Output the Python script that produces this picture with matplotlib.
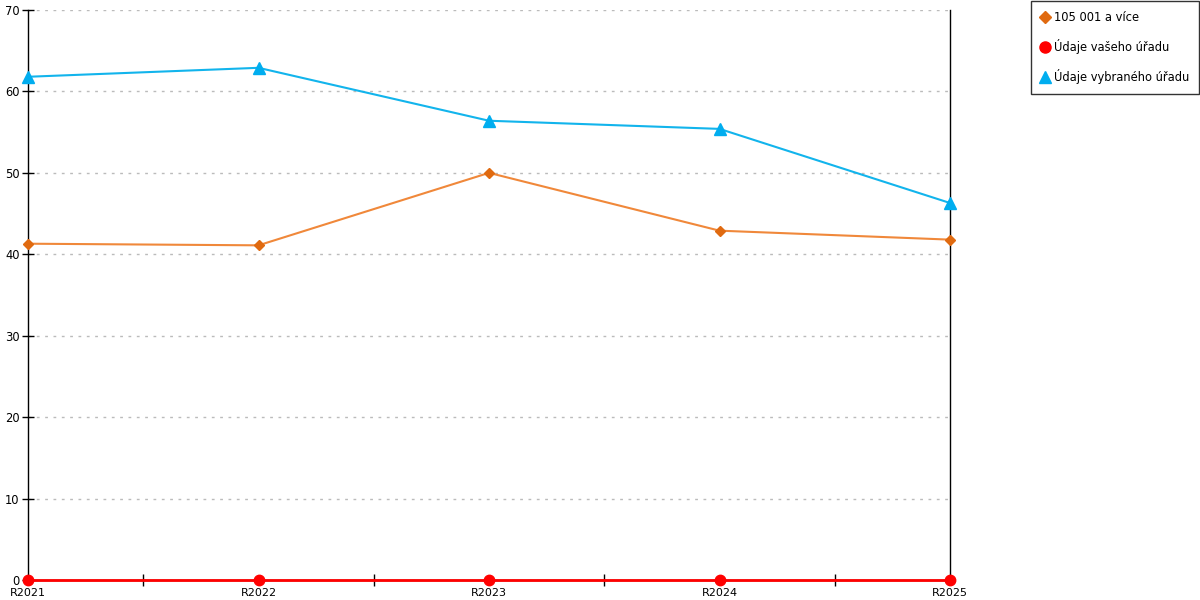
import matplotlib
matplotlib.use('Agg')
import matplotlib.pyplot as plt
from matplotlib.lines import Line2D

plt.rcParams['font.family'] = ['DejaVu Sans']

# data
years = ['R2021', 'R2022', 'R2023', 'R2024', 'R2025']
skupina = [41.3, 41.1, 50.0, 42.9, 41.8]      # 105 001 a více
vas_urad = [0, 0, 0, 0, 0]                    # Údaje vašeho úřadu
vybrany_urad = [61.8, 62.9, 56.4, 55.4, 46.3] # Údaje vybraného úřadu
yticks = [0, 10, 20, 30, 40, 50, 60, 70]

c_orange_line = '#F0883A'
c_orange_mark = '#E06A10'
c_red = '#FF0000'
c_blue = '#12B4EC'
c_blue_mark = '#00ADEF'

fig = plt.figure(figsize=(12, 6), dpi=100)
ax = fig.add_axes([28 / 1200, 20 / 600, 922 / 1200, 570 / 600])

x = list(range(len(years)))
ax.plot(x, skupina, color=c_orange_line, lw=1.5, zorder=3)
ax.plot(x, skupina, ls='none', marker='D', ms=5.5, color=c_orange_mark, clip_on=False, zorder=4)
ax.plot(x, vybrany_urad, color=c_blue, lw=1.5, zorder=3)
ax.plot(x, vybrany_urad, ls='none', marker='^', ms=8, color=c_blue_mark, clip_on=False, zorder=4)
ax.plot(x, vas_urad, color=c_red, lw=2, clip_on=False, zorder=5)
ax.plot(x, vas_urad, ls='none', marker='o', ms=7.5, color=c_red, clip_on=False, zorder=6)

ax.set_xlim(0, len(years) - 1)
ax.set_ylim(0, 70)
ax.set_yticks(yticks)
ax.set_xticks(x)
ax.set_xticklabels(years)
ax.set_xticks([i + 0.5 for i in x[:-1]], minor=True)

ax.grid(axis='y', color='#BBBBBB', ls=(0, (2, 4)), lw=1)
ax.set_axisbelow(True)

ax.spines['top'].set_visible(False)
for s in ['left', 'right', 'bottom']:
    ax.spines[s].set_color('black')
    ax.spines[s].set_linewidth(1)

ax.tick_params(axis='y', direction='inout', length=8, width=1, labelsize=8.3, pad=2, colors='black')
ax.tick_params(axis='x', which='major', length=0, labelsize=8, pad=6)
ax.tick_params(axis='x', which='minor', direction='inout', length=8, width=1)

handles = [
    Line2D([], [], ls='none', marker='D', ms=6, color=c_orange_mark),
    Line2D([], [], ls='none', marker='o', ms=8, color=c_red),
    Line2D([], [], ls='none', marker='^', ms=9, color=c_blue_mark),
]
labels = ['105 001 a více', 'Údaje vašeho úřadu', 'Údaje vybraného úřadu']
leg = fig.legend(handles, labels, loc='upper right', bbox_to_anchor=(1199 / 1200, 1 - 1 / 600),
                 fontsize=8.3, frameon=True, fancybox=False, edgecolor='black',
                 handlelength=0.6, handletextpad=0.5, labelspacing=1.3,
                 borderpad=0.85, borderaxespad=0)
leg.get_frame().set_linewidth(1)

fig.savefig('out.png', dpi=100)
